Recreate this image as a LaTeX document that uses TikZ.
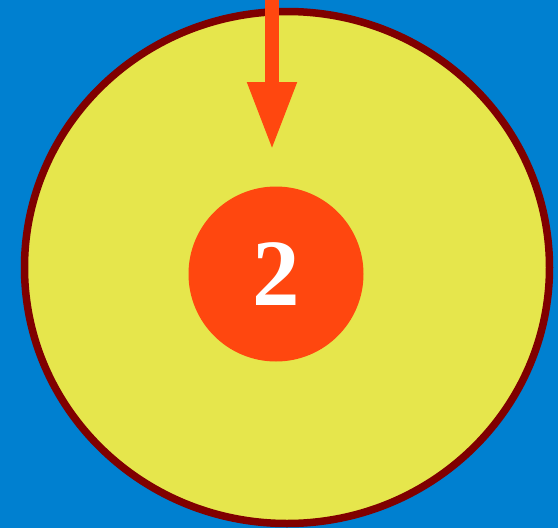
\documentclass[tikz,border=0pt]{standalone}
\usepackage{fontspec}
\setmainfont{Liberation Serif}
\usetikzlibrary{arrows.meta,shapes.geometric}
\definecolor{bgblue}{HTML}{0080D0}
\definecolor{diskyellow}{HTML}{E6E64C}
\definecolor{rimred}{HTML}{800000}
\definecolor{hotred}{HTML}{FF470F}
\tikzset{
  outerdisk/.style={ellipse, draw=rimred, line width=7.5pt, fill=diskyellow,
    minimum width=525pt, minimum height=512pt, inner sep=0pt},
  innerdisk/.style={circle, fill=hotred, minimum size=175pt, inner sep=0pt,
    text=white, font=\fontsize{95}{95}\selectfont\bfseries},
  bigarrow/.style={draw=hotred, line width=14pt, line cap=butt,
    -{Triangle[length=68pt,width=46pt,fill=hotred]}}
}
\begin{document}
\begin{tikzpicture}[x=1pt,y=-1pt]
  \fill[bgblue] (0,0) rectangle (558,528);
  \useasboundingbox (0,0) rectangle (558,528);
  \node[outerdisk] (outer) at (287,267.5) {};
  \node[innerdisk] (center) at (276,274) {2};
  \coordinate (src) at (272,-2);
  \coordinate (tip) at (272,150);
  \draw[bigarrow] (src) -- (tip);
\end{tikzpicture}
\end{document}
